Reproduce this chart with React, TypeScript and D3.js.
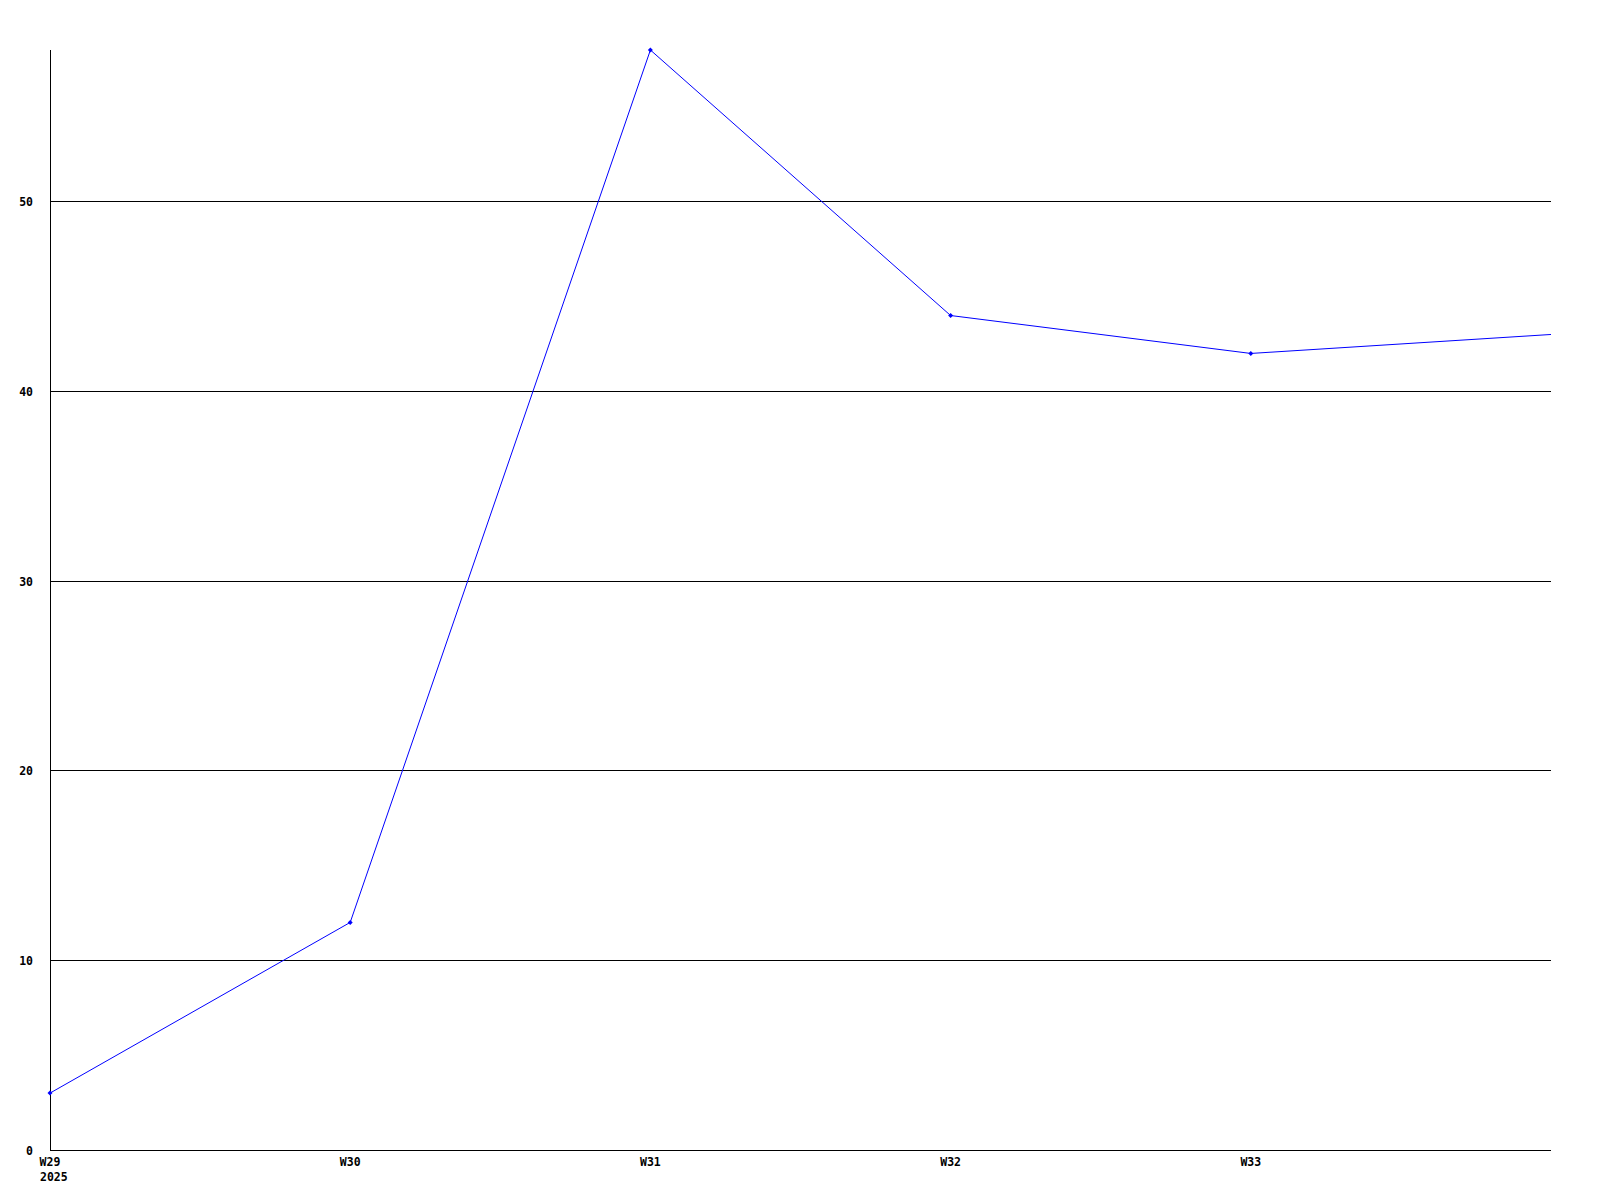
import React from "react";
import * as d3 from "d3";

const weeks = ["W29", "W30", "W31", "W32", "W33", "W34"];
const weekLabels = ["W29", "W30", "W31", "W32", "W33", ""];
const values = [3, 12, 58, 44, 42, 43];
const yTicks = [0, 10, 20, 30, 40, 50];
const yearLabel = "2025";

export default function App() {
  const W = 1600, H = 1200;
  const left = 50, right = 1551, top = 50, bottom = 1150;
  const x = d3.scalePoint<string>().domain(weeks).range([left, right]);
  const y = d3.scaleLinear().domain([0, 58]).range([bottom, top]);
  const line = d3.line<number>().x((_, i) => x(weeks[i])!).y((d) => y(d));
  const font = "'DejaVu Sans Mono', monospace";
  return (
    <svg width={W} height={H} style={{ position: "absolute", left: 0, top: 0, background: "#fff" }}>
      <rect x={0} y={0} width={W} height={H} fill="#fff" />
      {yTicks.filter((t) => t > 0).map((t) => (
        <line key={t} x1={left} x2={right} y1={Math.floor(y(t)) + 0.5} y2={Math.floor(y(t)) + 0.5} stroke="#000" strokeWidth={1} shapeRendering="crispEdges" />
      ))}
      <line x1={left + 0.5} x2={left + 0.5} y1={top} y2={bottom + 0.5} stroke="#000" strokeWidth={1} shapeRendering="crispEdges" />
      <line x1={left} x2={right} y1={bottom + 0.5} y2={bottom + 0.5} stroke="#000" strokeWidth={1} shapeRendering="crispEdges" />
      {yTicks.map((t) => (
        <text key={t} x={33} y={Math.floor(y(t)) + 0.5} dy="0.35em" textAnchor="end" fontFamily={font} fontWeight="bold" fontSize={11.5} fill="#000">{t}</text>
      ))}
      {weekLabels.map((l, i) => l ? (
        <text key={l} x={x(weeks[i])!} y={1162} dy="0.35em" textAnchor="middle" fontFamily={font} fontWeight="bold" fontSize={11.5} fill="#000">{l}</text>
      ) : null)}
      <text x={x(weeks[0])! - 10} y={1177} dy="0.35em" textAnchor="start" fontFamily={font} fontWeight="bold" fontSize={11.5} fill="#000">{yearLabel}</text>
      <path d={line(values)!} fill="none" stroke="#0000ff" strokeWidth={1} />
      {values.slice(0, 5).map((v, i) => {
        const cx = x(weeks[i])!, cy = y(v);
        return (
          <path key={i} d={`M${cx - 2.5},${cy}L${cx},${cy - 2.5}L${cx + 2.5},${cy}L${cx},${cy + 2.5}Z`} fill="#0000ff" stroke="none" />
        );
      })}
    </svg>
  );
}
